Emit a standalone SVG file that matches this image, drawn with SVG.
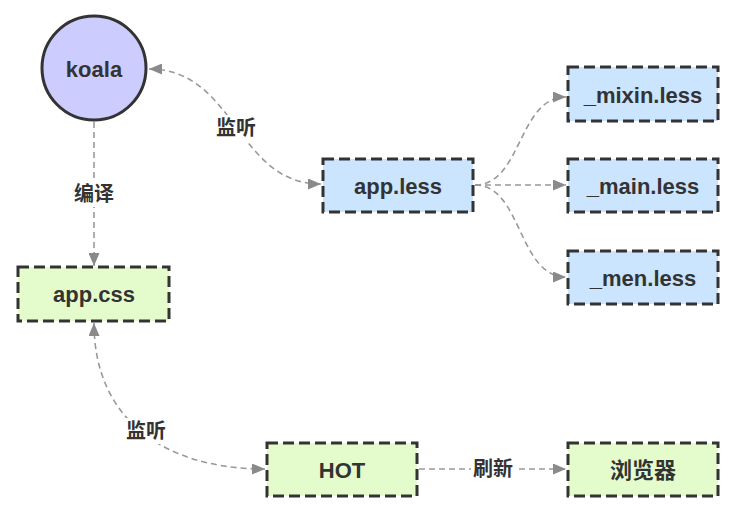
<svg xmlns="http://www.w3.org/2000/svg" width="738" height="515" viewBox="0 0 738 515">
<style>
.node{stroke:#333;stroke-width:3;stroke-dasharray:11 5}
.blue{fill:#cce5ff}
.green{fill:#e4fccc}
.t{font-family:"Liberation Sans","Noto Sans CJK SC",sans-serif;font-weight:bold;font-size:22px;fill:#333;text-anchor:middle;dominant-baseline:central}
.lbl{font-family:"Liberation Sans","Noto Sans CJK SC",sans-serif;font-weight:bold;font-size:20px;fill:#333;text-anchor:middle;dominant-baseline:central}
.c{fill:none;stroke:#999;stroke-width:1.6;stroke-dasharray:6 4}
.bg{fill:#fff}
</style>
<defs>
<marker id="ah" viewBox="0 0 13 11" refX="13" refY="5.5" markerWidth="13" markerHeight="11" markerUnits="userSpaceOnUse" orient="auto-start-reverse">
<path d="M0,0 L13,5.5 L0,11 Z" fill="#8a8a8a"/>
</marker>
</defs>
<rect width="738" height="515" fill="#fff"/>
<g id="connectors">
<path class="c" d="M94,122 L94,266" marker-end="url(#ah)"/>
<path class="c" d="M149,69 C236,69 236,184 321,184" marker-start="url(#ah)" marker-end="url(#ah)"/>
<path class="c" d="M475,185 C522,185 518,97 566,97" marker-end="url(#ah)"/>
<path class="c" d="M475,185 L566,185" marker-end="url(#ah)"/>
<path class="c" d="M475,185 C522,185 518,277 566,277" marker-end="url(#ah)"/>
<path class="c" d="M94,323 C94,420 165,469 265,469" marker-start="url(#ah)" marker-end="url(#ah)"/>
<path class="c" d="M419,469 L566,469" marker-end="url(#ah)"/>
<rect class="bg" x="72" y="181" width="44" height="26"/>
<text class="lbl" x="94" y="194">编译</text>
<rect class="bg" x="214" y="115" width="44" height="26"/>
<text class="lbl" x="236" y="128">监听</text>
<rect class="bg" x="124" y="418" width="44" height="26"/>
<text class="lbl" x="146" y="431">监听</text>
<rect class="bg" x="471" y="456" width="44" height="26"/>
<text class="lbl" x="493" y="469">刷新</text>
</g>
<g id="koala">
<circle cx="94" cy="68" r="52" fill="#ccccff" stroke="#333" stroke-width="3"/>
<text class="t" x="94" y="69">koala</text>
</g>
<g id="app-less">
<rect class="node blue" x="323" y="159" width="150" height="53"/>
<text class="t" x="398" y="186">app.less</text>
</g>
<g id="mixin-less">
<rect class="node blue" x="568" y="67" width="150" height="54"/>
<text class="t" x="643" y="95">_mixin.less</text>
</g>
<g id="main-less">
<rect class="node blue" x="568" y="159" width="150" height="53"/>
<text class="t" x="643" y="186">_main.less</text>
</g>
<g id="men-less">
<rect class="node blue" x="568" y="251" width="150" height="53"/>
<text class="t" x="643" y="278">_men.less</text>
</g>
<g id="app-css">
<rect class="node green" x="18" y="267" width="151" height="54"/>
<text class="t" x="94" y="294">app.css</text>
</g>
<g id="hot">
<rect class="node green" x="267" y="443" width="150" height="53"/>
<text class="t" x="342" y="470">HOT</text>
</g>
<g id="browser">
<rect class="node green" x="568" y="443" width="150" height="53"/>
<text class="t" x="643" y="470">浏览器</text>
</g>
</svg>
